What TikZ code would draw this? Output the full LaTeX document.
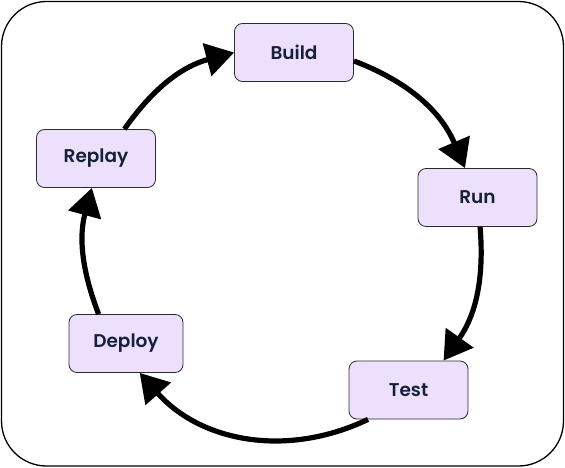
\documentclass[tikz,border=0pt]{standalone}
\usepackage{fontspec}
\setmainfont{Poppins}
\newfontfamily\stagefont{Poppins SemiBold}
\usepackage{xcolor}
\usepackage{tikz}
\usetikzlibrary{positioning,arrows.meta}
\definecolor{cStage}{HTML}{EDE0FD}
\definecolor{cText}{HTML}{16203C}
\definecolor{cEdge}{HTML}{2B2B2B}
\tikzset{
  stage/.style={rectangle,rounded corners=8pt,draw=cEdge,fill=cStage,line width=0.8pt,minimum width=119pt,minimum height=58pt,font=\stagefont\fontsize{18.5}{22}\selectfont,text=cText},
  flow/.style={-{Triangle[length=28pt,width=33pt]},line width=5.2pt},
  frame/.style={rounded corners=45pt,draw,line width=1.3pt}}

\begin{document}
\begin{tikzpicture}[x=1pt,y=-1pt]
\useasboundingbox (0,0) rectangle (565,468);
\draw[frame] (1.5,1.5) rectangle (563.5,466);
\node[stage] (build)  at (294,52.5)  {Build};
\node[stage] (run)    at (477.5,197.5) {Run};
\node[stage] (test)   at (408.5,390) {Test};
\node[stage, minimum width=114pt] (deploy) at (126,343.5) {Deploy};
\node[stage] (replay) at (96,158.5)  {Replay};
\draw[flow] (build.-8) to[bend left=23] (run.113);
\draw[flow] (run.-85) to[bend left=20] (test.40);
\draw[flow] (test.-144) to[bend left=37] (deploy.-65);
\draw[flow] (deploy.133) to[bend left=18] (replay.-98);
\draw[flow] (replay.46) to[bend left=20] (build.west);
\end{tikzpicture}
\end{document}
